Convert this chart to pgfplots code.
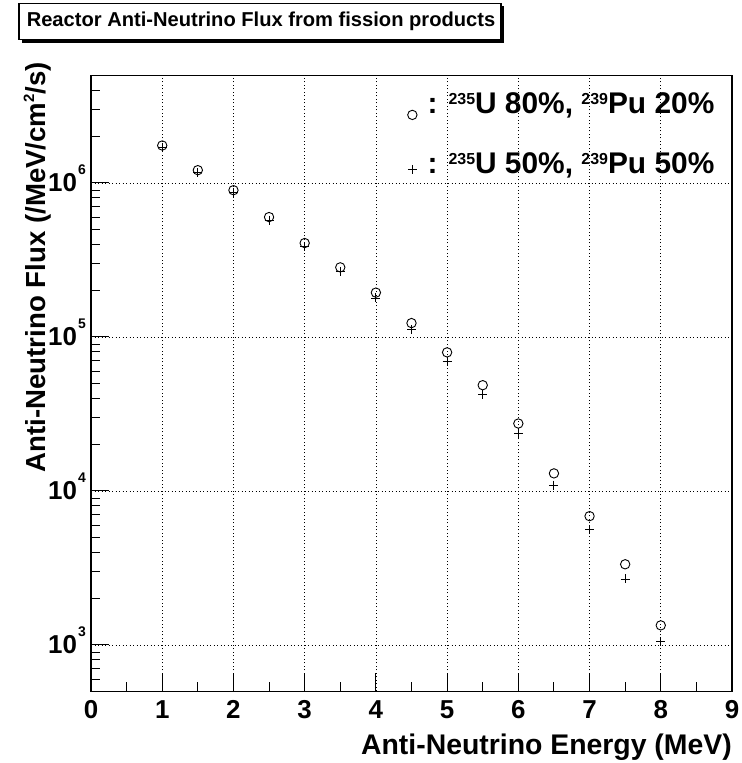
\documentclass[border=0pt]{standalone}
\usepackage{fontspec}
\setmainfont{Liberation Sans}
\usepackage{pgfplots}
\pgfplotsset{compat=1.18}
\pgfplotsset{legimg/.style={legend image code/.code={\path (-4.7bp,0bp) (4.7bp,0bp); \draw[##1, overlay] plot coordinates {(0bp,#1)};}}}
\newcommand{\sps}[1]{\kern1bp\smash{\raisebox{17bp}{\fontsize{14}{14}\selectfont\bfseries #1}}}
\newcommand{\spl}[1]{\raisebox{9bp}{\fontsize{16}{16}\selectfont\bfseries #1}}
\newcommand{\spy}[1]{\raisebox{11bp}{\fontsize{15}{15}\selectfont\bfseries #1}}
\pgfplotstableread{
x y
1 1.75e6
1.5 1.21e6
2 8.97e5
2.5 6.0e5
3 4.07e5
3.5 2.83e5
4 1.94e5
4.5 1.23e5
5 7.94e4
5.5 4.86e4
6 2.74e4
6.5 1.30e4
7 6.86e3
7.5 3.34e3
8 1.34e3
}\mixA
\pgfplotstableread{
x y
1 1.71e6
1.5 1.17e6
2 8.61e5
2.5 5.74e5
3 3.86e5
3.5 2.66e5
4 1.79e5
4.5 1.11e5
5 6.93e4
5.5 4.23e4
6 2.36e4
6.5 1.09e4
7 5.62e3
7.5 2.68e3
8 1.05e3
}\mixB
\begin{document}
\begin{tikzpicture}
\path[use as bounding box] (0bp,0bp) rectangle (742bp,763bp);
\fill[black] (22bp,720bp) rectangle (504bp,756.5bp);
\draw[line width=1.2bp, fill=white] (19bp,723.5bp) rectangle (501bp,759.7bp);
\node[font=\bfseries\fontsize{20.2}{20.2}\selectfont, inner sep=0pt] at (261bp,741.6bp) {Reactor Anti-Neutrino Flux from fission products};
\begin{axis}[
  at={(91bp,71.7bp)}, anchor=south west, scale only axis,
  width=641bp, height=616bp,
  xmin=0, xmax=9, ymin=500, ymax=5e6, ymode=log,
  xtick={0,1,2,3,4,5,6,7,8,9}, minor x tick num=1,
  ytick={1e3,1e4,1e5,1e6},
  yticklabels={10\sps{3},10\sps{4},10\sps{5},10\sps{6}},
  minor ytick={600,700,800,900,2000,3000,4000,5000,6000,7000,8000,9000,20000,30000,40000,50000,60000,70000,80000,90000,2e5,3e5,4e5,5e5,6e5,7e5,8e5,9e5,2e6,3e6,4e6},
  tick pos=left, tick align=inside,
  major tick length=18bp, minor tick length=9bp,
  every tick/.style={black, line width=0.9bp},
  axis line style={line width=1.2bp},
  grid=major,
  major grid style={black, line width=0.6bp, dash pattern=on 1bp off 2.5bp},
  /pgf/number format/assume math mode=true,
  xticklabel style={font=\bfseries\fontsize{26}{26}\selectfont, inner sep=0pt, yshift=-9bp},
  yticklabel style={font=\bfseries\fontsize{26}{26}\selectfont, inner sep=0pt, xshift=-5bp},
  xlabel={Anti-Neutrino Energy (MeV)},
  xlabel style={font=\bfseries\fontsize{28.5}{28.5}\selectfont, inner sep=0pt,
    at={(axis description cs:1,0)}, anchor=north east, yshift=-42bp},
  ylabel={Anti-Neutrino Flux (/MeV/cm\spy{2}/s)},
  ylabel style={font=\bfseries\fontsize{27.7}{27.7}\selectfont, inner sep=0pt,
    at={(axis description cs:-0.084,1.0216)}, anchor=east},
  legend style={draw=none, fill=none, font=\bfseries\fontsize{30}{30}\selectfont,
    at={(axis description cs:0.493,0.972)}, anchor=north west,
    inner sep=0pt, row sep=38bp, column sep=10bp, nodes={inner sep=0pt}},
  legend cell align=left,
]
\addplot[only marks, mark=o, mark size=4.7bp, black, line width=0.9bp, legimg=-11bp] table[x=x,y=y] {\mixA};
\addlegendentry{: \spl{235}U 80\%, \spl{239}Pu 20\%}
\addplot[only marks, mark=+, mark size=4.5bp, black, line width=0.9bp, legimg=-5bp] table[x=x,y=y] {\mixB};
\addlegendentry{: \spl{235}U 50\%, \spl{239}Pu 50\%}
\end{axis}
\end{tikzpicture}
\end{document}
